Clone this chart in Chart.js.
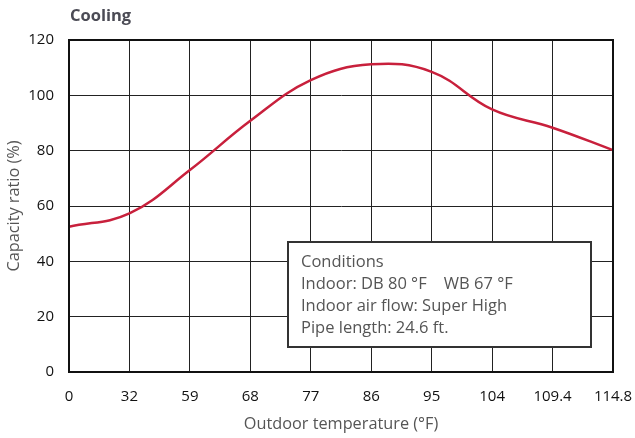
<!DOCTYPE html>
<html lang="en">
<head>
<meta charset="UTF-8">
<script src="https://cdn.jsdelivr.net/npm/chart.js"></script>
<style>
  body { margin: 0; background: #fff; }
  #wrap { width: 635px; height: 438px; }
</style>
</head>
<body>
<div id="wrap"><canvas id="myChart" width="635" height="438"></canvas></div>
<script>
// data
const temps = ['0', '32', '59', '68', '77', '86', '95', '104', '109.4', '114.8']
const capacity = [52.5, 57.3, 73, 90.8, 105.5, 111.2, 108.5, 94.9, 88.3, 80.2]
const yTicks = [0, 20, 40, 60, 80, 100, 120]
const conditions = ['Conditions', 'Indoor: DB 80 °F    WB 67 °F', 'Indoor air flow: Super High', 'Pipe length: 24.6 ft.']

const FONT = '"Open Sans", sans-serif'

// frame, title and the conditions box
const extras = {
  id: 'extras',
  afterDatasetsDraw(chart) {
    const { ctx, chartArea: a } = chart
    ctx.save()
    // box
    const bx = a.left + 219, by = a.top + 202, bw = 303, bh = 105
    ctx.fillStyle = '#fff'
    ctx.fillRect(bx, by, bw, bh)
    ctx.strokeStyle = '#333'
    ctx.lineWidth = 2
    ctx.strokeRect(bx, by, bw, bh)
    ctx.fillStyle = '#555'
    ctx.font = '16.5px ' + FONT
    ctx.textBaseline = 'middle'
    conditions.forEach((t, i) => {
      ctx.fillText(t, bx + 13, by + 20 + i * 22)
    })
    // frame
    ctx.strokeStyle = '#111'
    ctx.lineWidth = 2
    ctx.strokeRect(a.left, a.top, a.right - a.left, a.bottom - a.top)
    // title
    ctx.fillStyle = '#4b4b55'
    ctx.font = 'bold 16.5px ' + FONT
    ctx.textBaseline = 'middle'
    ctx.fillText('Cooling', a.left + 1, 16)
    ctx.restore()
  }
}

new Chart(document.getElementById('myChart'), {
  type: 'line',
  data: {
    labels: temps,
    datasets: [{
      data: capacity,
      borderColor: '#c8203c',
      borderWidth: 2.5,
      pointRadius: 0,
      tension: 0.4,
      fill: false
    }]
  },
  options: {
    responsive: false,
    animation: false,
    layout: { padding: { top: 40, right: 22, left: 0, bottom: 0 } },
    plugins: { legend: { display: false }, tooltip: { enabled: false } },
    scales: {
      x: {
        offset: false,
        grid: { color: '#222', lineWidth: 1, drawTicks: false },
        border: { color: '#111', width: 2 },
        ticks: { color: '#111', font: { family: FONT, size: 15 }, padding: 16, maxRotation: 0, autoSkip: false },
        title: { display: true, text: 'Outdoor temperature (°F)', color: '#555', font: { family: FONT, size: 16.3 }, padding: { top: 0, bottom: 4 } },
        afterFit: s => { s.height = 66; s.paddingLeft = 0; s.paddingRight = 0 }
      },
      y: {
        min: 0,
        max: 120,
        afterBuildTicks: s => { s.ticks = yTicks.map(v => ({ value: v })) },
        grid: { color: '#222', lineWidth: 1, drawTicks: false },
        border: { color: '#111', width: 2 },
        ticks: { color: '#111', font: { family: FONT, size: 15 }, padding: 15 },
        title: { display: true, text: 'Capacity ratio (%)', color: '#555', font: { family: FONT, size: 16.3 }, padding: { top: 5, bottom: 0 } },
        afterFit: s => { s.width = 69; s.paddingTop = 0; s.paddingBottom = 0 }
      }
    }
  },
  plugins: [extras]
})
</script>
</body>
</html>
